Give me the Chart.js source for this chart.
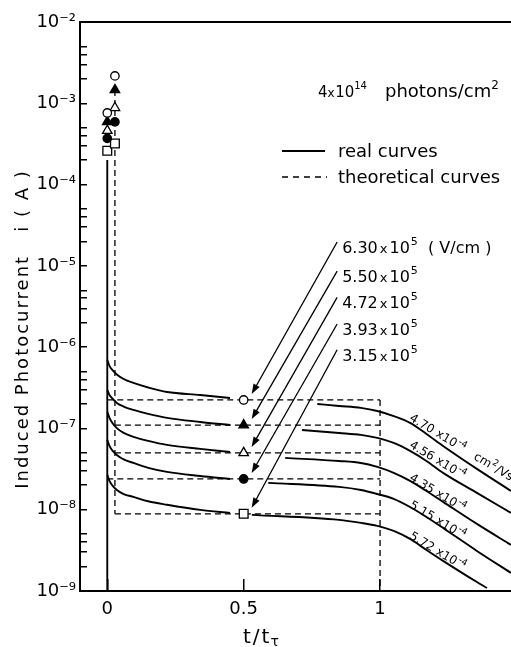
<!DOCTYPE html>
<html><head><meta charset="utf-8">
<script src="https://cdn.jsdelivr.net/npm/chart.js@4.4.0/dist/chart.umd.min.js"></script>
<style>html,body{margin:0;padding:0;background:#fff}</style>
</head><body>
<canvas id="c" width="511" height="647"></canvas>
<script>
// ---------------- data ----------------
const fieldLabels    = ['6.30', '5.50', '4.72', '3.93', '3.15'];   // x10^5 V/cm
const mobilityLabels = ['4.70', '4.56', '4.35', '5.15', '5.72'];   // x10^-4 cm^2/Vs
const xTicks = [0, 0.5, 1];

const peakRealT = 0;
const peakTheoryT = 0.028;
const markerT = 0.5;
const transitT = 1;
const spikeTop = 2.0e-4;
const axisMin = 1e-9;

const peakReal    = [7.6e-4, 5.9e-4, 4.6e-4, 3.7e-4, 2.6e-4];
const peakTheory  = [2.17e-3, 1.46e-3, 8.8e-4, 5.9e-4, 3.2e-4];
const theoryLevel = [2.24e-7, 1.10e-7, 5.0e-8, 2.39e-8, 8.9e-9];
const theoryStart = [0, 0.028, 0.028, 0, 0.028];

const earlyT = [0, 0.008, 0.02, 0.035, 0.06, 0.096, 0.15, 0.219, 0.341, 0.45];
const realEarly1 = [6.96e-7, 5.87e-7, 5.17e-7, 4.62e-7, 4.06e-7, 3.63e-7, 3.19e-7, 2.81e-7, 2.58e-7, 2.37e-7];
const realEarly2 = [2.98e-7, 2.58e-7, 2.31e-7, 2.06e-7, 1.86e-7, 1.69e-7, 1.51e-7, 1.35e-7, 1.20e-7, 1.10e-7];
const realEarly3 = [1.60e-7, 1.35e-7, 1.15e-7, 1.01e-7, 8.80e-8, 7.86e-8, 7.02e-8, 6.27e-8, 5.60e-8, 5.14e-8];
const realEarly4 = [7.22e-8, 6.09e-8, 5.29e-8, 4.72e-8, 4.16e-8, 3.76e-8, 3.27e-8, 2.92e-8, 2.60e-8, 2.39e-8];
const realEarly5 = [2.68e-8, 2.26e-8, 1.96e-8, 1.75e-8, 1.56e-8, 1.44e-8, 1.27e-8, 1.15e-8, 9.94e-9, 9.13e-9];

const lateT1 = [0.77,  0.85, 0.93, 0.99, 1.05, 1.11, 1.17, 1.231, 1.355, 1.48];
const lateT2 = [0.714, 0.85, 0.93, 0.99, 1.05, 1.11, 1.17, 1.231, 1.355, 1.48];
const lateT3 = [0.652, 0.85, 0.93, 0.99, 1.05, 1.11, 1.17, 1.231, 1.355, 1.48];
const lateT4 = [0.59,  0.85, 0.93, 0.99, 1.05, 1.11, 1.17, 1.231, 1.355, 1.48];
const lateT5 = [0.53,  0.85, 0.93, 0.99, 1.05, 1.11, 1.17, 1.231, 1.355, 1.392];
const realLate1 = [2.00e-7, 1.89e-7, 1.79e-7, 1.64e-7, 1.42e-7, 1.17e-7, 8.55e-8, 6.09e-8, 3.18e-8, 1.70e-8];
const realLate2 = [9.58e-8, 8.80e-8, 8.32e-8, 7.64e-8, 6.63e-8, 5.29e-8, 3.98e-8, 2.84e-8, 1.61e-8, 9.13e-9];
const realLate3 = [4.34e-8, 3.98e-8, 3.76e-8, 3.36e-8, 2.84e-8, 2.26e-8, 1.70e-8, 1.25e-8, 6.69e-9, 3.69e-9];
const realLate4 = [2.14e-8, 1.91e-8, 1.75e-8, 1.56e-8, 1.36e-8, 1.08e-8, 8.15e-9, 5.97e-9, 3.11e-9, 1.67e-9];
const realLate5 = [8.63e-9, 7.49e-9, 6.88e-9, 6.32e-9, 5.48e-9, 4.37e-9, 3.20e-9, 2.35e-9, 1.29e-9, 1.09e-9];

// ---------------- build datasets ----------------
const FONT = '"DejaVu Sans", sans-serif';
const markerStyles = [
  {style:'circle',   r:4.2, fill:'#fff'},
  {style:'triangle', r:5.5, fill:'#000'},
  {style:'triangle', r:5.5, fill:'#fff'},
  {style:'circle',   r:4.2, fill:'#000'},
  {style:'rect',     r:6.2, fill:'#fff'}
];
const zip = (ts, vs) => ts.map((t, i) => ({x: t, y: vs[i]}));
const realSegments = [
  [earlyT, realEarly1], [earlyT, realEarly2], [earlyT, realEarly3], [earlyT, realEarly4], [earlyT, realEarly5],
  [lateT1, realLate1], [lateT2, realLate2], [lateT3, realLate3], [lateT4, realLate4], [lateT5, realLate5]
];

const datasets = [];
markerStyles.forEach((st, k) => datasets.push({
  showLine: false, order: 0,
  data: [{x: peakRealT, y: peakReal[k]}, {x: peakTheoryT, y: peakTheory[k]}, {x: markerT, y: theoryLevel[k]}],
  pointStyle: st.style, pointRadius: st.r, pointBackgroundColor: st.fill,
  pointBorderColor: '#000', pointBorderWidth: 1.3
}));
realSegments.forEach(([ts, vs]) => datasets.push({
  order: 1, data: zip(ts, vs), borderColor: '#000', borderWidth: 1.9,
  cubicInterpolationMode: 'monotone', pointRadius: 0
}));
datasets.push({order: 1, data: [{x: peakRealT, y: axisMin}, {x: peakRealT, y: spikeTop}],
  borderColor: '#000', borderWidth: 1.9, pointRadius: 0});
theoryLevel.forEach((v, k) => datasets.push({
  order: 1, data: [{x: theoryStart[k], y: v}, {x: transitT, y: v}],
  borderColor: '#000', borderWidth: 1.3, borderDash: [6, 4], pointRadius: 0
}));
datasets.push({order: 1, data: [{x: peakTheoryT, y: peakTheory[1]}, {x: peakTheoryT, y: theoryLevel[4]}],
  borderColor: '#000', borderWidth: 1.3, borderDash: [6, 4], pointRadius: 0});
datasets.push({order: 1, data: [{x: transitT, y: theoryLevel[0]}, {x: transitT, y: axisMin}],
  borderColor: '#000', borderWidth: 1.3, borderDash: [6, 4], pointRadius: 0});

// ---------------- helpers ----------------
const SUP = {'-':'\u207B','0':'\u2070','1':'\u00B9','2':'\u00B2','3':'\u00B3','4':'\u2074','5':'\u2075','6':'\u2076','7':'\u2077','8':'\u2078','9':'\u2079'};
const sup = s => String(s).split('').map(c => SUP[c] || c).join('');
const mantissa = v => { const e = Math.floor(Math.log10(v) + 1e-9); return {e, m: v / Math.pow(10, e)}; };

function drawParts(ctx, x, y, parts) {
  let cx = x;
  for (const p of parts) {
    ctx.font = `${p.s}px ${FONT}`;
    ctx.fillText(p.t, cx, y + (p.dy || 0));
    cx += ctx.measureText(p.t).width + (p.g || 0);
  }
  return cx;
}

// annotation placement (anchors for the texts only)
const fieldLabelAt = {t: 0.861, i: [1.44e-5, 6.3e-6, 3.0e-6, 1.41e-6, 6.8e-7]};
const mobilityLabelAt = {t: 1.105, i: [1.27e-7, 5.91e-8, 2.33e-8, 1.08e-8, 4.5e-9], angle: 31};

const annot = {
  id: 'annot',
  afterDraw(chart) {
    const ctx = chart.ctx, xs = chart.scales.x, ys = chart.scales.y, ca = chart.chartArea;
    ctx.save();
    ctx.fillStyle = '#000'; ctx.strokeStyle = '#000';
    ctx.textAlign = 'left'; ctx.textBaseline = 'alphabetic';
    // top frame line
    ctx.lineWidth = 2;
    ctx.beginPath(); ctx.moveTo(ca.left - 1, ca.top); ctx.lineTo(ca.right, ca.top); ctx.stroke();

    // y title
    ctx.save();
    ctx.translate(28, 329); ctx.rotate(-Math.PI / 2);
    ctx.textAlign = 'center';
    ctx.letterSpacing = '2px';
    ctx.font = `18px ${FONT}`;
    ctx.fillText('Induced Photocurrent   i ( A )', 0, 0);
    ctx.restore();

    // x title  t/t_tau
    ctx.save();
    ctx.letterSpacing = '2px';
    const ex = drawParts(ctx, 243, 643, [{t: 't/t', s: 20}]);
    drawParts(ctx, ex - 1, 646, [{t: '\u03C4', s: 14}]);
    ctx.restore();

    // fluence text
    drawParts(ctx, 318, 97, [{t: '4', s: 15}, {t: 'x', s: 12, g: 0.5}, {t: '10', s: 15}, {t: '14', s: 10, dy: -8}]);
    drawParts(ctx, 385, 97, [{t: 'photons/cm', s: 18}, {t: '2', s: 12, dy: -8}]);

    // legend
    ctx.lineWidth = 2; ctx.setLineDash([]);
    ctx.beginPath(); ctx.moveTo(282, 151); ctx.lineTo(325, 151); ctx.stroke();
    ctx.lineWidth = 1.4; ctx.setLineDash([6, 5]);
    ctx.beginPath(); ctx.moveTo(282, 177); ctx.lineTo(327, 177); ctx.stroke();
    ctx.setLineDash([]);
    drawParts(ctx, 338, 157, [{t: 'real curves', s: 18}]);
    drawParts(ctx, 338, 183, [{t: 'theoretical curves', s: 18}]);

    // field labels with arrows to the markers
    const lx = xs.getPixelForValue(fieldLabelAt.t);
    fieldLabels.forEach((lab, k) => {
      const ly = ys.getPixelForValue(fieldLabelAt.i[k]);
      const parts = [{t: lab, s: 16, g: 2}, {t: 'x', s: 13, g: 2}, {t: '10', s: 16, g: 1}, {t: '5', s: 11, dy: -8}];
      if (k === 0) parts.push({t: '  ( V/cm )', s: 16});
      drawParts(ctx, lx, ly, parts);
      const sx = lx - 5, sy = ly - 11;
      const exx = xs.getPixelForValue(markerT) + 8, eyy = ys.getPixelForValue(theoryLevel[k]) - 6;
      const ang = Math.atan2(eyy - sy, exx - sx);
      ctx.lineWidth = 1.3;
      ctx.beginPath(); ctx.moveTo(sx, sy);
      ctx.lineTo(exx - Math.cos(ang) * 6, eyy - Math.sin(ang) * 6); ctx.stroke();
      ctx.beginPath();
      ctx.moveTo(exx, eyy);
      ctx.lineTo(exx - Math.cos(ang) * 10 + Math.sin(ang) * 3.5, eyy - Math.sin(ang) * 10 - Math.cos(ang) * 3.5);
      ctx.lineTo(exx - Math.cos(ang) * 10 - Math.sin(ang) * 3.5, eyy - Math.sin(ang) * 10 + Math.cos(ang) * 3.5);
      ctx.closePath(); ctx.fill();
    });

    // mobility labels along the tails
    const mx = xs.getPixelForValue(mobilityLabelAt.t);
    mobilityLabels.forEach((lab, k) => {
      const my = ys.getPixelForValue(mobilityLabelAt.i[k]);
      ctx.save();
      ctx.translate(mx, my); ctx.rotate(mobilityLabelAt.angle * Math.PI / 180);
      const parts = [{t: lab, s: 12, g: 4}, {t: 'x10', s: 12, g: 1}, {t: '-4', s: 9, dy: -5}];
      if (k === 0) parts.push({t: '', s: 8, g: 12}, {t: 'cm', s: 12, g: 0.5}, {t: '2', s: 9, dy: -5, g: 0.5}, {t: '/Vs', s: 12});
      drawParts(ctx, 0, 0, parts);
      ctx.restore();
    });
    ctx.restore();
  }
};

new Chart(document.getElementById('c'), {
  type: 'line',
  data: {datasets},
  options: {
    responsive: false, animation: false, events: [],
    layout: {autoPadding: false, padding: {left: 0, right: 0, top: 22, bottom: 0}},
    plugins: {legend: {display: false}, tooltip: {enabled: false}},
    scales: {
      x: {
        type: 'linear', position: 'bottom', min: -0.1, max: 1.48,
        grid: {drawOnChartArea: false, tickLength: -12, color: '#000', lineWidth: 1.5},
        border: {color: '#000', width: 2},
        ticks: {color: '#000', font: {family: FONT, size: 18}, padding: 20, autoSkip: false,
          callback: v => String(v)},
        afterBuildTicks: s => { s.ticks = xTicks.map(v => ({value: v})); },
        afterFit: s => { s.height = 56; }
      },
      y: {
        type: 'logarithmic', position: 'left', min: axisMin, max: 1e-2,
        grid: {drawOnChartArea: false, tickLength: -7, color: '#000', lineWidth: 1.5},
        border: {color: '#000', width: 2},
        ticks: {color: '#000', font: {family: FONT, size: 18}, padding: 11, autoSkip: false,
          callback: v => {
            const {e, m} = mantissa(v);
            return Math.abs(m - 1) < 1e-6 ? '10' + sup(e) : '';
          }},
        afterBuildTicks: s => {
          s.ticks = s.ticks.filter(t => {
            const {m} = mantissa(t.value);
            return Math.abs(m - Math.round(m)) < 1e-6 && Math.round(m) <= 5;
          });
        },
        afterFit: s => { s.width = 80; }
      }
    }
  },
  plugins: [annot]
});
</script>
</body></html>
